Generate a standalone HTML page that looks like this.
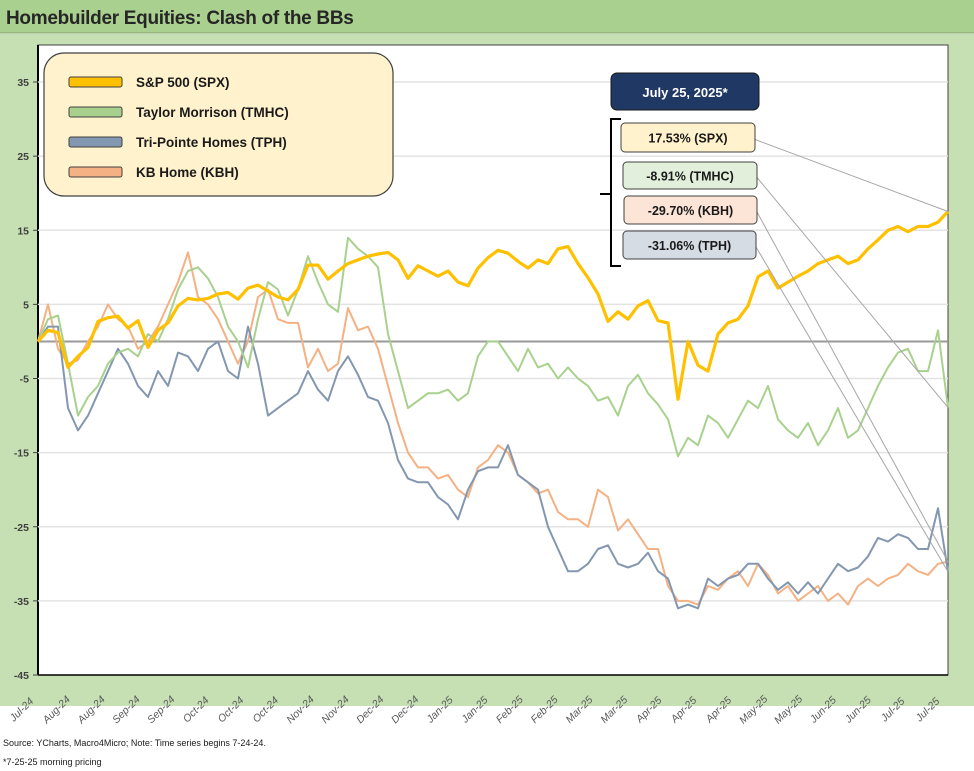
<!DOCTYPE html>
<html><head><meta charset="utf-8">
<style>
body{margin:0;background:#fff;font-family:"Liberation Sans",sans-serif;}
#wrap{position:relative;width:974px;height:771px;overflow:hidden;}
</style></head>
<body>
<div id="wrap">
<svg id="chart" width="974" height="771" xmlns="http://www.w3.org/2000/svg"></svg>
</div>
<script>
const xLabels=["Jul-24","Aug-24","Aug-24","Sep-24","Sep-24","Oct-24","Oct-24","Oct-24","Nov-24","Nov-24","Dec-24","Dec-24","Jan-25","Jan-25","Feb-25","Feb-25","Mar-25","Mar-25","Apr-25","Apr-25","Apr-25","May-25","May-25","Jun-25","Jun-25","Jul-25","Jul-25"];
const yTicks=[35,25,15,5,-5,-15,-25,-35,-45];
const spx=[0,1.5,1.2,-3.5,-2,-0.8,2.7,3.2,3.4,1.8,2.8,-0.8,1.5,2.5,4.8,5.8,5.6,5.8,6.4,6.6,5.7,7.2,7.6,6.8,6,5.6,7,10.3,10.3,8.4,9.5,10.5,11,11.5,11.8,12,11,8.5,10.2,9.5,8.8,9.5,8,7.5,9.9,11.3,12.3,11.9,10.8,9.9,11,10.5,12.5,12.8,10.5,8.6,6.4,2.7,4,3,4.8,5.5,2.8,2.5,-7.8,0,-3.2,-4,1,2.5,3,4.8,8.7,9.5,7.2,8,8.8,9.5,10.5,11,11.5,10.5,11,12.5,13.7,15,15.5,14.8,15.5,15.5,16.1,17.53];
const tmhc=[0,3,3.5,-3,-10,-7.5,-6,-3,-1.5,-1,-2,1,0,3,7,9.5,10,8.5,6,2,0,-3.5,3,8,7,3.5,7,11.5,8,5,4,14,12.5,11.5,10,1,-4,-9,-8,-7,-7,-6.5,-8,-7,-2,0,0,-2,-4,-1,-3.5,-3,-5,-3.5,-5,-6,-8,-7.5,-10,-6,-4.5,-7,-8.5,-10.5,-15.5,-13,-14,-10,-11,-13,-10.5,-8,-9,-6,-10.5,-12,-13,-11,-14,-12,-9,-13,-12,-9,-6,-3.5,-1.5,-1,-4,-4,1.5,-8.91];
const kbh=[0,5,-1,-3,-2.5,0,2,5,3,2,-1,0,2,5,8,12,6,5,3,0,-3,0,6,7,3,2.5,2.5,-3.5,-1,-4,-3,4.5,1.5,2,-1,-6,-11,-15,-17,-17,-18.5,-18,-20,-21,-17,-16,-14,-15,-18,-19,-20.5,-20,-23,-24,-24,-25,-20,-21,-25.5,-24,-26,-28,-28,-33,-35,-35,-35.5,-33,-33.5,-32,-31,-33,-30,-31.5,-34,-33,-35,-34,-33,-35,-34,-35.5,-33,-32,-33,-32,-31.5,-30,-31,-31.5,-30,-29.7];
const tph=[0,2,2,-9,-12,-10,-7,-4,-1,-3,-6,-7.5,-4,-6,-1.5,-2,-4,-1,0,-4,-5,2,-3,-10,-9,-8,-7,-4,-6.5,-8,-4,-2,-4.5,-7.5,-8,-11,-16,-18.5,-19,-19,-21,-22,-24,-20,-17.5,-17,-17,-14,-18,-19,-20,-25,-28,-31,-31,-30,-28,-27.5,-30,-30.5,-30,-28.5,-31,-32,-36,-35.5,-36,-32,-33,-32,-31.5,-30,-30,-32,-33.5,-32.5,-34,-32.5,-34,-32,-30,-31,-30.5,-29,-26.5,-27,-26,-26.5,-28,-28,-22.5,-31.06];

const NS="http://www.w3.org/2000/svg";
const svg=document.getElementById('chart');
function el(tag,attrs,parent){const e=document.createElementNS(NS,tag);for(const k in attrs)e.setAttribute(k,attrs[k]);(parent||svg).appendChild(e);return e;}
const PX0=38,PX1=948,PY0=45,PY1=675;
const yS=v=>82+(35-v)*(593/80);
const xS=(i,n)=>PX0+i*(PX1-PX0)/(n-1);

let r=el('rect',{x:0,y:0,width:974,height:33,fill:'#a9d08e'});

el('line',{x1:0,y1:33,x2:974,y2:33,stroke:'#7f9f6a','stroke-width':1});
let t=el('text',{x:6,y:24,'font-size':19,'font-weight':'bold',fill:'#262626','letter-spacing':'-0.3'});t.textContent='Homebuilder Equities: Clash of the BBs';

r=el('rect',{x:0,y:34,width:974,height:672,fill:'#c6e0b4'});

r=el('rect',{x:PX0,y:PY0,width:PX1-PX0,height:PY1-PY0,fill:'#fff',stroke:'#404040','stroke-width':1});

el('line',{x1:PX0,y1:PY0,x2:PX0,y2:PY1,stroke:'#000','stroke-width':2});

yTicks.forEach(v=>{const y=yS(v);
 if(v>-45){const g=el('line',{x1:PX0,y1:y,x2:PX1,y2:y,stroke:'#e3e3e3','stroke-width':1.5});}
 el('line',{x1:PX0-5,y1:y,x2:PX0,y2:y,stroke:'#404040'});
 const tt=el('text',{x:29,y:y+4,'font-size':10.5,'font-weight':'bold','text-anchor':'end',fill:'#404040'});tt.textContent=v;
 
});
const z=el('line',{x1:PX0,y1:yS(0),x2:PX1,y2:yS(0),stroke:'#9a9a9a','stroke-width':2});

el('line',{x1:PX0,y1:PY1,x2:PX1,y2:PY1,stroke:'#000','stroke-width':1.5});

xLabels.forEach((s,i)=>{const x=24+i*(906/26);
 const tt=el('text',{x:x,y:712,'font-size':10.5,'font-style':'italic',fill:'#595959','text-anchor':'middle',transform:`rotate(-45 ${x} 712)`});tt.textContent=s;
 
});

function line(data,color,w,name){const n=data.length;
 const p=el('polyline',{points:data.map((v,i)=>xS(i,n).toFixed(1)+','+yS(v).toFixed(1)).join(' '),fill:'none',stroke:color,'stroke-width':w,'stroke-linejoin':'round'});
 }
line(kbh,'#f4b183',2,'kbh-line');
line(tph,'#8497b0',2,'tph-line');
line(tmhc,'#a9d18e',2,'tmhc-line');
line(spx,'#ffc000',3.2,'spx-line');

const lg=el('g',{});
el('rect',{x:44,y:53,width:349,height:143,rx:20,fill:'#fff2cc',stroke:'#404040','stroke-width':1.2},lg);
[['S&P 500 (SPX)','#ffc000'],['Taylor Morrison (TMHC)','#a9d18e'],['Tri-Pointe Homes (TPH)','#8497b0'],[' KB Home (KBH)','#f4b183']].forEach((e,i)=>{
 const y=82+i*30;const g=el('g',{},lg);
 el('rect',{x:69,y:y-5,width:53,height:10,rx:2,fill:e[1],stroke:'#404040','stroke-width':1},g);
 const tt=el('text',{x:136,y:y+5,'font-size':13.5,'font-weight':'bold',fill:'#1a1a1a','xml:space':'preserve'},g);tt.textContent=e[0];
});

const an=el('g',{});
el('rect',{x:611,y:73,width:148,height:37,rx:6,fill:'#203864',stroke:'#1a1a1a'},an);
let at=el('text',{x:685,y:97,'font-size':13,'font-weight':'bold',fill:'#fff','text-anchor':'middle'},an);at.textContent='July 25, 2025*';
el('path',{d:'M621,119 H611 V194 H600 M611,194 V266 H621',fill:'none',stroke:'#000','stroke-width':2},an);
const boxes=[[621,123,134,29,'#fff2cc','17.53% (SPX)',spx],[623,162,134,27,'#e2efda','-8.91% (TMHC)',tmhc],[624,196,133,28,'#fce4d6','-29.70% (KBH)',kbh],[623,231,133,28,'#d6dce4','-31.06% (TPH)',tph]];
boxes.forEach(b=>{const g=el('g',{},an);
 el('line',{x1:b[0]+b[2],y1:b[1]+b[3]/2+2,x2:PX1,y2:yS(b[6][b[6].length-1]),stroke:'#a6a6a6','stroke-width':1},g);
 el('rect',{x:b[0],y:b[1],width:b[2],height:b[3],rx:4,fill:b[4],stroke:'#404040'},g);
 const tt=el('text',{x:b[0]+b[2]/2,y:b[1]+b[3]/2+5,'font-size':12.5,'font-weight':'bold',fill:'#1a1a1a','text-anchor':'middle'},g);tt.textContent=b[5];
});

let f=el('text',{x:3,y:746,'font-size':9,fill:'#1a1a1a'});f.textContent='Source: YCharts, Macro4Micro; Note: Time series begins 7-24-24.';

f=el('text',{x:3,y:765,'font-size':9,fill:'#1a1a1a'});f.textContent='*7-25-25 morning pricing';

</script>
</body></html>
